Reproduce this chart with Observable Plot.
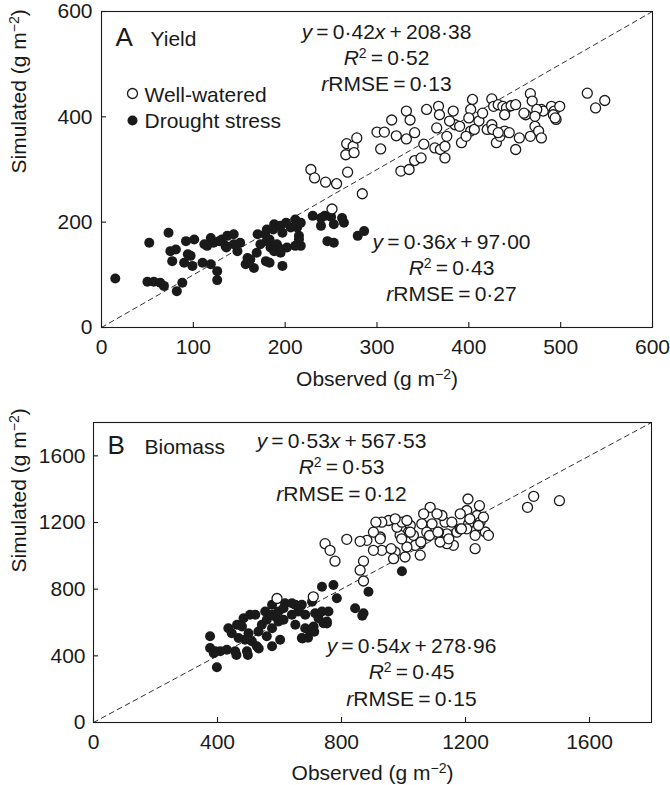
<!DOCTYPE html>
<html><head><meta charset="utf-8">
<script src="https://cdn.jsdelivr.net/npm/d3@7"></script>
<script src="https://cdn.jsdelivr.net/npm/@observablehq/plot@0.6"></script>
<style>
body{margin:0;background:#fff;}
#chart{width:670px;}
#chart svg{display:block;}
</style></head><body><div id="chart"></div>
<script>
// ---------- DATA (observed, simulated) ----------
const yieldWellWatered = [
 [228,300],[232,284],[244,276],[256,273],[268,295],[284,254],[251,225],[267,349],[266,328],[274,344],
 [278,360],[275,332],[300,371],[308,371],[304,339],[316,394],[321,364],[332,411],[332,358],[341,370],
 [336,394],[326,297],[335,300],[341,317],[348,322],[351,348],[354,414],[367,420],[368,404],[365,379],
 [363,341],[369,338],[374,344],[374,322],[376,363],[383,411],[385,385],[392,351],[390,382],[379,392],
 [404,433],[402,414],[400,398],[402,373],[397,363],[406,376],[411,392],[415,407],[420,376],[425,385],
 [430,351],[434,363],[426,376],[439,373],[432,370],[425,434],[427,420],[432,423],[437,420],[441,417],
 [446,421],[451,423],[439,404],[444,370],[451,338],[455,360],[462,404],[467,363],[472,382],[476,373],
 [479,414],[481,411],[467,444],[469,430],[474,414],[472,401],[460,407],[490,420],[493,411],[495,395],
 [499,420],[479,360],[492,404],[494,398],[529,445],[538,417],[548,431]
];
const yieldDrought = [
 [15,93],[52,161],[73,180],[50,87],[57,87],[64,85],[68,79],[82,69],[88,85],[75,145],
 [81,148],[77,126],[90,123],[97,136],[99,117],[92,164],[101,167],[110,123],[119,120],[126,107],
 [126,90],[115,155],[122,161],[128,164],[137,174],[144,177],[135,155],[144,158],[151,161],[148,145],
 [159,132],[157,120],[166,113],[170,177],[180,186],[188,196],[195,193],[173,158],[180,164],[184,152],
 [191,158],[188,145],[195,142],[179,126],[197,117],[202,152],[206,190],[213,190],[217,199],[215,174],
 [217,155],[230,212],[239,208],[239,193],[253,196],[262,208],[264,199],[246,164],[253,161],[279,174],
 [286,183],[94,139],[112,158],[119,170],[131,167],[136,152],[162,129],[169,142],[178,177],[183,167],
 [183,123],[187,186],[197,180],[194,150],[201,199],[211,205],[215,167],[211,155],[243,212],[250,210]
];
const biomassWellWatered = [
 [1420,1357],[1400,1291],[1503,1331],[1208,1341],[1245,1301],[1237,1242],[1247,1202],[1264,1143],[1274,1123],[1204,1272],
 [1183,1252],[1210,1192],[1231,1123],[1231,1043],[1204,1162],[1172,1142],[1161,1063],[1140,1073],[1134,1202],[1140,1132],
 [1156,1202],[1118,1083],[1124,1242],[1086,1291],[1065,1252],[1059,1192],[1092,1192],[1075,1142],[1054,1073],[1038,1063],
 [1054,1004],[1032,1123],[1022,1182],[1016,1142],[1011,1053],[1005,993],[989,1123],[979,1172],[973,1023],[968,983],
 [952,1212],[930,1202],[925,1113],[930,1033],[903,1033],[903,1142],[882,1093],[860,1087],[817,1099],[747,1073],
 [763,1033],[779,968],[871,968],[860,914],[871,849],[995,1202],[1011,1212],[973,1222],[1108,1252],[1258,1232],
 [1113,1142],[1183,1162],[911,1202],[925,1102],[960,1043],[994,1102],[1022,1142],[1056,1083],[1084,1122],[1111,1142],
 [1146,1102],[1187,1162],[1214,1222],[1242,1182],[592,744],[709,754]
];
const biomassDrought = [
 [398,332],[376,517],[376,447],[393,427],[409,427],[430,437],[457,427],[495,427],[435,566],[463,586],
 [468,507],[489,497],[500,536],[484,626],[505,646],[527,457],[532,546],[543,586],[554,666],[559,517],
 [576,566],[602,497],[597,606],[576,706],[618,715],[640,646],[651,586],[661,666],[672,706],[672,507],
 [683,566],[699,546],[710,576],[715,656],[737,666],[742,596],[753,606],[758,666],[705,725],[726,626],
 [737,815],[774,825],[785,745],[844,685],[871,656],[887,785],[995,908],[613,616],[586,636],[559,616],
 [522,646],[479,576],[446,536],[511,487],[576,457],[388,415],[498,405],[461,405],[533,444],[674,504],
 [692,508],[712,544],[753,594],[867,640],[640,715],[576,646],[651,706],[683,646],[597,666],[613,686]
];
const yieldXTicks = [0,100,200,300,400,500,600];
const yieldYTicks = [0,200,400,600];
const biomassTicks = [0,400,800,1200,1600];
const yieldDomain = [0,600];
const biomassDomain = [0,1800];
const legendLabels = ["Well-watered","Drought stress"];
const yieldTitle = ["A","Yield"];
const biomassTitle = ["B","Biomass"];
const yieldWetStats = ["y=0·42x+208·38","R2=0·52","rRMSE=0·13"];
const yieldDryStats = ["y=0·36x+97·00","R2=0·43","rRMSE=0·27"];
const biomassWetStats = ["y=0·53x+567·53","R2=0·53","rRMSE=0·12"];
const biomassDryStats = ["y=0·54x+278·96","R2=0·45","rRMSE=0·15"];
const xTitle = "Observed (g m−2)";
const yTitle = "Simulated (g m−2)";

// ---------- RENDER ----------
const FONT = '"Liberation Sans", Arial, Helvetica, sans-serif';
const INK = "#1a1a1a";
const FS = 21;

function statText(lines, dx, dy0, step) {
  return lines.map((t, i) => Plot.text([t], {frameAnchor: "top-left", dx, dy: dy0 + i * step, text: d => d,
    textAnchor: "middle", lineAnchor: "bottom", fontSize: FS, fill: INK}));
}

function panel(o) {
  const pw = 670 - o.ml - o.mr, ph = o.h - o.mt - o.mb;
  const acc = {x: d => d[0], y: d => d[1]};
  return Plot.plot({
    width: 670, height: o.h, marginLeft: o.ml, marginRight: o.mr, marginTop: o.mt, marginBottom: o.mb,
    style: {fontFamily: FONT, fontSize: FS + "px", color: INK, background: "white", overflow: "visible"},
    x: {domain: o.domain, label: null},
    y: {domain: o.domain, label: null},
    marks: [
      Plot.line(o.domain, {x: d => d, y: d => d, stroke: INK, strokeWidth: 0.9, strokeDasharray: "5,4"}),
      Plot.dot(o.dry, {...acc, r: 5, fill: INK, stroke: "none"}),
      Plot.dot(o.wet, {...acc, r: 5, fill: "white", stroke: INK, strokeWidth: 1.3}),
      Plot.frame({stroke: INK, strokeWidth: 1.1}),
      Plot.tickX(o.xTicks, {x: d => d, insetTop: ph - 5, stroke: INK, strokeWidth: 1.1}),
      Plot.tickY(o.yTicks, {y: d => d, insetRight: pw - 5, stroke: INK, strokeWidth: 1.1}),
      Plot.axisX(o.xTicks, {tickSize: 0, tickPadding: o.xPad, fontSize: FS, tickFormat: d => String(d), label: null}),
      Plot.axisY(o.yTicks, {tickSize: 0, tickPadding: o.yPad, fontSize: FS, tickFormat: d => String(d), label: null}),
      Plot.text([o.title[0]], {frameAnchor: "top-left", dx: o.titleDx[0], dy: o.titleDy, text: d => d, textAnchor: "start", lineAnchor: "bottom", fontSize: 26, fill: INK}),
      Plot.text([o.title[1]], {frameAnchor: "top-left", dx: o.titleDx[1], dy: o.titleDy, text: d => d, textAnchor: "start", lineAnchor: "bottom", fontSize: 21, fill: INK}),
      ...statText(o.wetStats, o.wetPos[0], o.wetPos[1], o.step),
      ...statText(o.dryStats, o.dryPos[0], o.dryPos[1], o.step),
      ...(o.legend ? [
        Plot.dot([legendLabels[0]], {frameAnchor: "top-left", dx: 31, dy: 82, r: 5, fill: "white", stroke: INK, strokeWidth: 1.3}),
        Plot.dot([legendLabels[1]], {frameAnchor: "top-left", dx: 31, dy: 109, r: 5, fill: INK}),
        Plot.text([legendLabels[0]], {frameAnchor: "top-left", dx: 43, dy: 90, text: d => d, textAnchor: "start", lineAnchor: "bottom", fontSize: FS, fill: INK}),
        Plot.text([legendLabels[1]], {frameAnchor: "top-left", dx: 43, dy: 116, text: d => d, textAnchor: "start", lineAnchor: "bottom", fontSize: FS, fill: INK})
      ] : []),
      Plot.text([xTitle], {frameAnchor: "bottom", dy: o.xTitleDy, text: d => d, lineAnchor: "middle", fontSize: FS, fill: INK}),
      Plot.text([yTitle], {frameAnchor: "left", dx: o.yTitleDx, dy: o.yTitleShift, rotate: -90, text: d => d, lineAnchor: "middle", fontSize: FS, fill: INK})
    ]
  });
}

const TS = "\u2009"; // thin space around operators
const it = s => `<tspan font-style="italic">${s}</tspan>`;
const sup = (s, rest) => `<tspan dy="-7" font-size="14">${s}</tspan><tspan dy="7">${rest}</tspan>`;
const eq = `${TS}=${TS}`;
function rich(t) {
  let m;
  if ((m = t.match(/^y=(.*)x\+(.*)$/))) return `${it("y")}${eq}${m[1]}${it("x")}${TS}+${TS}${m[2]}`;
  if ((m = t.match(/^R2=(.*)$/))) return `${it("R")}${sup("2", eq + m[1])}`;
  if ((m = t.match(/^rRMSE=(.*)$/))) return `${it("r")}RMSE${eq}${m[1]}`;
  if ((m = t.match(/^(.*\(g m)−2\)$/))) return `${m[1]}${sup("−2", ")")}`;
  return null;
}

const A = panel({h: 395, ml: 101, mr: 18, mt: 11, mb: 68, domain: yieldDomain, xTicks: yieldXTicks, yTicks: yieldYTicks,
  wet: yieldWellWatered, dry: yieldDrought, xPad: 12, yPad: 9, title: yieldTitle, titleDx: [14, 49], titleDy: 34,
  wetStats: yieldWetStats, dryStats: yieldDryStats, wetPos: [285, 27], dryPos: [350, 237], step: 26.3,
  legend: true, xTitleDy: 52, yTitleDx: -82, yTitleShift: 4});
const B = panel({h: 390, ml: 93, mr: 19, mt: 27, mb: 63, domain: biomassDomain, xTicks: biomassTicks, yTicks: biomassTicks,
  wet: biomassWellWatered, dry: biomassDrought, xPad: 12, yPad: 8, title: biomassTitle, titleDx: [14, 51], titleDy: 31,
  wetStats: biomassWetStats, dryStats: biomassDryStats, wetPos: [248, 25], dryPos: [318, 230], step: 26.5,
  legend: false, xTitleDy: 51, yTitleDx: -74, yTitleShift: 0});

for (const svg of [A, B]) {
  d3.select(svg).selectAll("text").each(function() {
    if (this.querySelector("tspan")) return;
    const r = rich(this.textContent);
    if (r) this.innerHTML = r;
  });
  document.getElementById("chart").appendChild(svg);
}
</script></body></html>
